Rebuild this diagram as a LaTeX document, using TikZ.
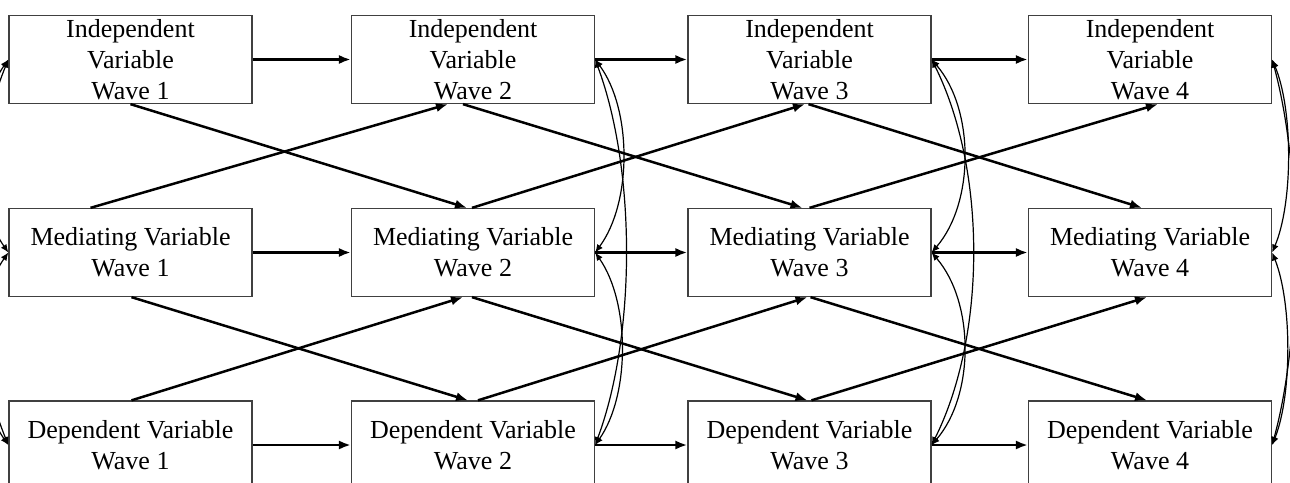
\documentclass[tikz,border=0pt]{standalone}
\usepackage{fontspec}
\setmainfont{Liberation Serif}
\usetikzlibrary{arrows.meta,calc}
\begin{document}
\begin{tikzpicture}[x=0.5pt,y=-0.5pt,
  box/.style={draw=black!75, line width=0.65pt, minimum width=121.5pt, minimum height=44pt,
    inner sep=0pt, align=center, font=\fontsize{13}{15.5}\selectfont},
  arr/.style={line width=1.25pt, -{Latex[length=6pt,width=4.6pt]}},
  corr/.style={line width=0.6pt, {Latex[length=4pt,width=3.4pt]}-{Latex[length=4pt,width=3.4pt]}}]
\useasboundingbox (0,0) rectangle (1290,482);
\clip (0,0) rectangle (1290,482);

% boxes
\node[box] (IV1) at (130.5,59.5) {Independent\\Variable\\Wave 1};
\node[box] (IV2) at (473,59.5) {Independent\\Variable\\Wave 2};
\node[box] (IV3) at (809.5,59.5) {Independent\\Variable\\Wave 3};
\node[box] (IV4) at (1150,59.5) {Independent\\Variable\\Wave 4};
\node[box] (MV1) at (130.5,252.5) {Mediating Variable\\Wave 1};
\node[box] (MV2) at (473,252.5) {Mediating Variable\\Wave 2};
\node[box] (MV3) at (809.5,252.5) {Mediating Variable\\Wave 3};
\node[box] (MV4) at (1150,252.5) {Mediating Variable\\Wave 4};
\node[box] (DV1) at (130.5,445) {Dependent Variable\\Wave 1};
\node[box] (DV2) at (473,445) {Dependent Variable\\Wave 2};
\node[box] (DV3) at (809.5,445) {Dependent Variable\\Wave 3};
\node[box] (DV4) at (1150,445) {Dependent Variable\\Wave 4};

% autoregressive paths
\draw[arr] (IV1) -- (IV2);
\draw[arr] (IV2) -- (IV3);
\draw[arr] (IV3) -- (IV4);
\draw[arr] (MV1) -- (MV2);
\draw[arr] (MV2) -- (MV3);
\draw[arr] (MV3) -- (MV4);
\draw[arr] (DV1) -- (DV2);
\draw[arr] (DV2) -- (DV3);
\draw[arr] (DV3) -- (DV4);

% cross-lagged paths, wave 1 -> 2
\draw[arr] (IV1.south) -- ($(MV2.north)+(-6,0)$);
\draw[arr] ($(MV1.north)+(-40,0)$) -- ($(IV2.south)+(-25,0)$);
\draw[arr] ($(MV1.south)+(1,0)$) -- ($(DV2.north)+(-5,0)$);
\draw[arr] ($(DV1.north)+(1,0)$) -- ($(MV2.south)+(-10,0)$);
% wave 2 -> 3
\draw[arr] ($(IV2.south)+(-10,0)$) -- ($(MV3.north)+(-7,0)$);
\draw[arr] ($(MV2.north)+(-1,0)$) -- ($(IV3.south)+(-4.5,0)$);
\draw[arr] ($(MV2.south)+(-1,0)$) -- ($(DV3.north)+(-2,0)$);
\draw[arr] ($(DV2.north)+(5,0)$) -- ($(MV3.south)+(-2,0)$);
% wave 3 -> 4
\draw[arr] ($(IV3.south)+(-1,0)$) -- ($(MV4.north)+(-8,0)$);
\draw[arr] (MV3.north) -- ($(IV4.south)+(8,0)$);
\draw[arr] ($(MV3.south)+(1,0)$) -- ($(DV4.north)+(-3,0)$);
\draw[arr] ($(DV3.north)+(2,0)$) -- ($(MV4.south)+(-3,0)$);

% within-wave correlations
\draw[corr] (IV1.west) .. controls +(-35,50) and +(-35,-50) .. (MV1.west);
\draw[corr] (MV1.west) .. controls +(-35,50) and +(-35,-50) .. (DV1.west);
\draw[corr] (IV1.west) .. controls +(-45,110) and +(-45,-110) .. (DV1.west);

\draw[corr] (IV2.east) .. controls +(37,50) and +(37,-50) .. (MV2.east);
\draw[corr] (MV2.east) .. controls +(35,50) and +(35,-50) .. (DV2.east);
\draw[corr] (IV2.east) .. controls +(41,110) and +(41,-110) .. (DV2.east);

\draw[corr] (IV3.east) .. controls +(43,50) and +(43,-50) .. (MV3.east);
\draw[corr] (MV3.east) .. controls +(43,50) and +(43,-50) .. (DV3.east);
\draw[corr] (IV3.east) .. controls +(55,110) and +(55,-110) .. (DV3.east);

\draw[corr] (IV4.east) .. controls +(21,50) and +(21,-50) .. (MV4.east);
\draw[corr] (MV4.east) .. controls +(20,50) and +(20,-50) .. (DV4.east);
\draw[corr] (IV4.east) .. controls +(30,110) and +(30,-110) .. (DV4.east);
\end{tikzpicture}
\end{document}
